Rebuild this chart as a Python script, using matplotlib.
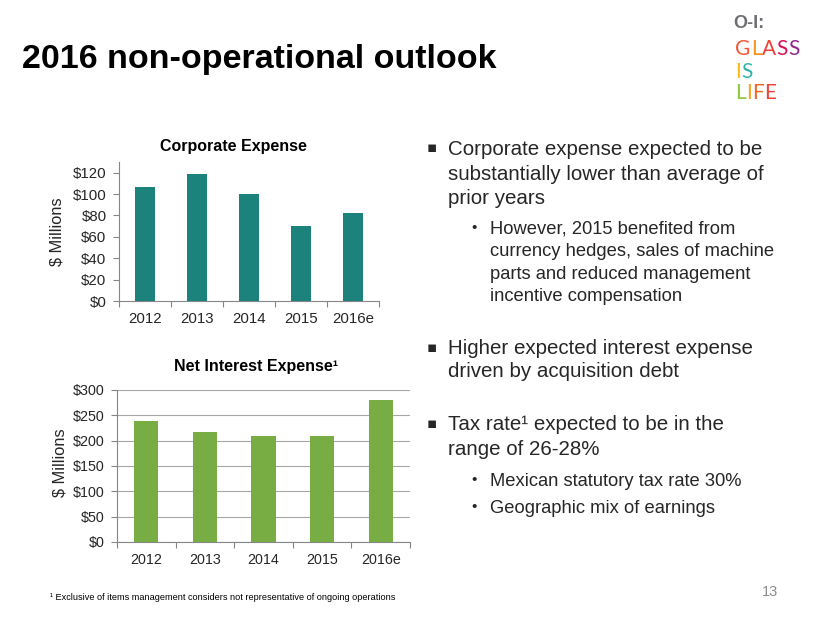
import matplotlib
matplotlib.use("Agg")
import matplotlib.pyplot as plt
import numpy as np

plt.rcParams['font.family'] = ['Liberation Sans', 'DejaVu Sans']

years = ['2012', '2013', '2014', '2015', '2016e']
corp_expense = [107, 119, 100, 70, 82]      # $ millions
net_interest = [238, 218, 210, 209, 280]    # $ millions
corp_ticks = [0, 20, 40, 60, 80, 100, 120]
int_ticks = [0, 50, 100, 150, 200, 250, 300]

bullets = [
    (148, 0, "Corporate expense expected to be"),
    (173, 0, "substantially lower than average of"),
    (197, 0, "prior years"),
    (228, 1, "However, 2015 benefited from"),
    (250, 1, "currency hedges, sales of machine"),
    (273, 1, "parts and reduced management"),
    (295, 1, "incentive compensation"),
    (347, 0, "Higher expected interest expense"),
    (370, 0, "driven by acquisition debt"),
    (423, 0, "Tax rate\u00b9 expected to be in the"),
    (448, 0, "range of 26-28%"),
    (480, 1, "Mexican statutory tax rate 30%"),
    (507, 1, "Geographic mix of earnings"),
]
bullet_starts = [148, 228, 347, 423, 480, 507]

W, H = 830, 623
fig = plt.figure(figsize=(8.3, 6.23), dpi=100)
fig.patch.set_facecolor('white')

def fx(px):
    return px / W

def fy(py):
    return 1 - py / H

txt = '#262626'
axis_gray = '#868686'

def bar_chart(rect, vals, ticks, ymax, color, width, grid, ylab_x, tsize):
    ax = fig.add_axes(rect)
    x = np.arange(len(vals))
    ax.bar(x, vals, width=width, color=color, zorder=3)
    ax.set_xlim(-0.5, len(vals) - 0.5)
    ax.set_ylim(0, ymax)
    ax.set_yticks(ticks)
    ax.set_yticklabels(['$%d' % t for t in ticks], fontsize=tsize, color=txt)
    ax.set_xticks(x)
    ax.set_xticklabels(years, fontsize=tsize, color=txt)
    ax.set_xticks(np.arange(-0.5, len(vals)), minor=True)
    ax.tick_params(axis='x', which='major', length=0, pad=8)
    ax.tick_params(axis='x', which='minor', length=4, color=axis_gray, width=0.8)
    ax.tick_params(axis='y', length=4, color=axis_gray, width=0.8, pad=5)
    for s in ['top', 'right']:
        ax.spines[s].set_visible(False)
    for s in ['left', 'bottom']:
        ax.spines[s].set_color(axis_gray)
        ax.spines[s].set_linewidth(0.8)
    if grid:
        ax.yaxis.grid(True, color='#a6a6a6', linewidth=0.8, zorder=0)
    ax.set_ylabel('$ Millions', fontsize=11.8, color=txt)
    ax.yaxis.set_label_coords(ylab_x, 0.5 if not grid else 0.52)
    return ax

ax1 = bar_chart([fx(119), fy(301), fx(379) - fx(119), fy(162) - fy(301)],
                corp_expense, corp_ticks, 130, '#1b837b', 0.4, False, -0.21, 10.8)
ax2 = bar_chart([fx(117), fy(542), fx(410) - fx(117), fy(390) - fy(542)],
                net_interest, int_ticks, 300, '#77ad42', 0.41, True, -0.168, 10.3)

fig.text(fx(233), fy(147), 'Corporate Expense', fontsize=11.5, fontweight='bold',
         ha='center', va='center', color='black')
fig.text(fx(256), fy(367), 'Net Interest Expense\u00b9', fontsize=11.5,
         fontweight='bold', ha='center', va='center', color='black')

# slide title
fig.text(fx(22), fy(68), '2016 non-operational outlook', fontsize=24.5,
         fontweight='bold', ha='left', va='baseline', color='black')

# bullets on the right (y = line centre, drawn on the baseline)
for y, lvl, s in bullets:
    if lvl == 0:
        fig.text(fx(448), fy(y + 7), s, fontsize=14.8, ha='left', va='baseline', color=txt)
        if y in bullet_starts:
            fig.text(fx(432), fy(y), '\u25aa', fontsize=11, ha='center', va='center',
                     color=txt, family=['DejaVu Sans'])
    else:
        fig.text(fx(490), fy(y + 6), s, fontsize=13.2, ha='left', va='baseline', color=txt)
        if y in bullet_starts:
            fig.text(fx(474), fy(y), '\u2022', fontsize=11, ha='center', va='center',
                     color=txt)

# footnote and page number
fig.text(fx(50), fy(597), '\u00b9 Exclusive of items management considers not representative of ongoing operations',
         fontsize=6.6, ha='left', va='center', color='black',
         family=['Liberation Sans Narrow', 'Liberation Sans'])
fig.text(fx(778), fy(592), '13', fontsize=10.5, ha='right', va='center', color='#8c8c8c')

# logo
fig.text(fx(733), fy(23), 'O-I:', fontsize=13, fontweight='bold', ha='left', va='center',
         color='#6d6e71')
logo_rows = [
    (49, [('G', '#f15a3a'), ('L', '#f7941d'), ('A', '#ef4136'), ('S', '#d4145a'), ('S', '#92278f')]),
    (72, [('I', '#fdb813'), ('S', '#2bb6a8')]),
    (93, [('L', '#8dc63f'), ('I', '#f7a21b'), ('F', '#f26522'), ('E', '#ef4136')]),
]
renderer = fig.canvas.get_renderer()
for y, letters in logo_rows:
    xpos = 735
    for ch, col in letters:
        t = fig.text(fx(xpos), fy(y), ch, fontsize=15, ha='left', va='center', color=col,
                     family=['Lato', 'DejaVu Sans'])
        bb = t.get_window_extent(renderer)
        xpos += bb.width + 0.3

fig.savefig('out.png', dpi=100)
